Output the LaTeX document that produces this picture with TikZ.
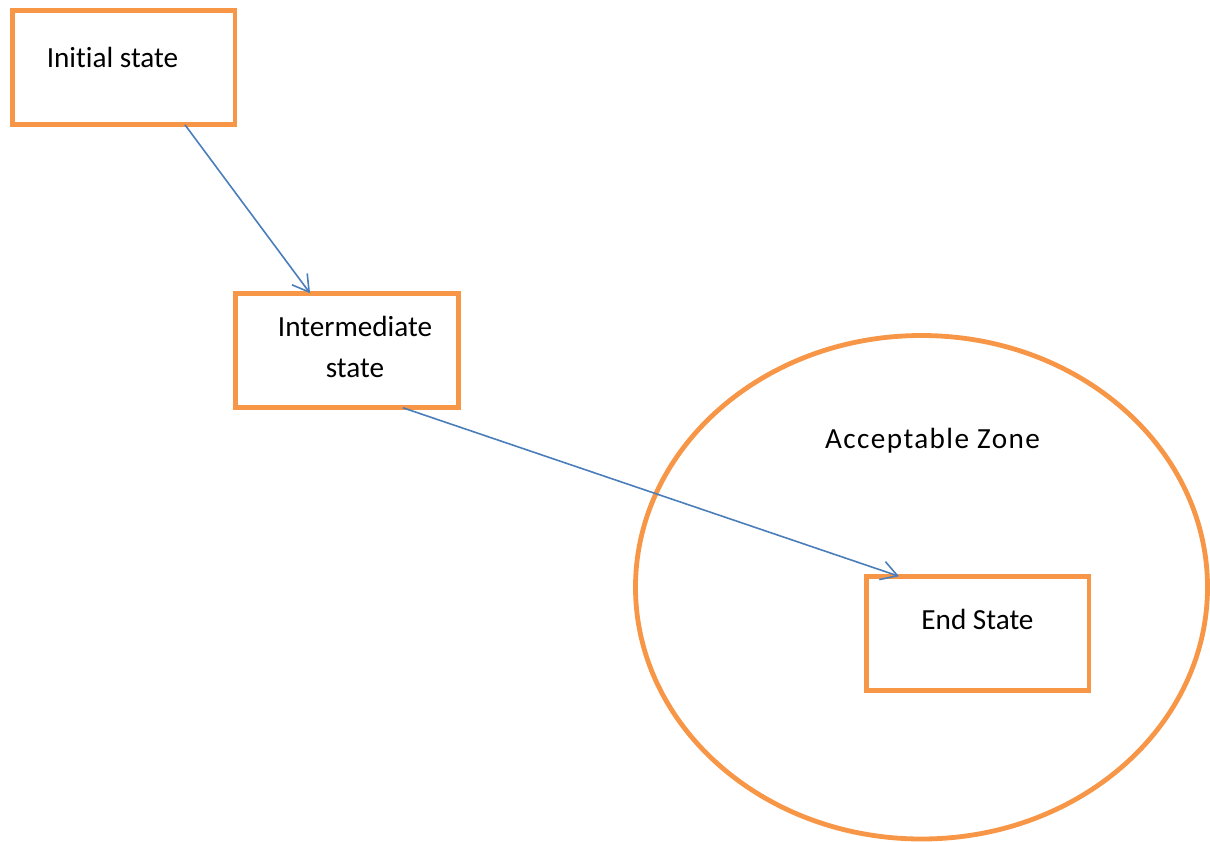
\documentclass[tikz,border=0pt]{standalone}
\usepackage{fontspec}
\setmainfont{Carlito}[Ligatures=NoCommon]
\usepackage{xcolor}
\usetikzlibrary{arrows.meta,positioning,calc,shapes.geometric}
\definecolor{cOrange}{HTML}{F79646}
\definecolor{cBlue}{HTML}{4A7EBB}
\definecolor{cInk}{HTML}{000000}
\tikzset{
  statebox/.style ={rectangle,draw=cOrange,line width=2.4pt,inner sep=0pt,
                    outer sep=0pt,minimum width=111.25pt,minimum height=57.25pt},
  zone/.style     ={ellipse,draw=cOrange,line width=2.4pt,inner sep=0pt,
                    outer sep=0pt,minimum width=286pt,minimum height=251.75pt},
  txt/.style      ={font=\fontsize{14.6}{20.5}\selectfont,text=cInk,
                    inner sep=0pt,align=center},
  ar/.style       ={-{Straight Barb[length=8pt,width=9.5pt]},cBlue,line width=0.8pt},
}

\begin{document}
\begin{tikzpicture}[x=0.5pt,y=-0.5pt]
\useasboundingbox (0,0) rectangle (1210,841);
% zone and states
\node[zone] (Z) at (921.5,587.25) {};
\node[statebox] (init)  at (123.75,67.5) {};
\node[statebox] (inter) at (347,350.5) {};
\node[statebox] (endst) at (977.75,633.5) {};
% texts
\node[txt,anchor=base] (tInit)  at (112.5,67) {Initial state};
\node[txt,anchor=center] (tInter) at (355,346.5) {Intermediate\\state};
\node[txt,anchor=base] (tEnd)   at (977.5,629) {End State};
\node[txt,anchor=base] (tZone)  at (932.5,448)
  {\addfontfeature{LetterSpace=4.8}Acceptable Zone};
% transitions
\draw[ar] ($(init.south west)!0.775!(init.south east)$)
       -- ($(inter.north west)!0.334!(inter.north east)$);
\draw[ar] ($(inter.south west)!0.751!(inter.south east)$)
       -- ($(endst.north west)!0.146!(endst.north east)$);
\end{tikzpicture}
\end{document}
